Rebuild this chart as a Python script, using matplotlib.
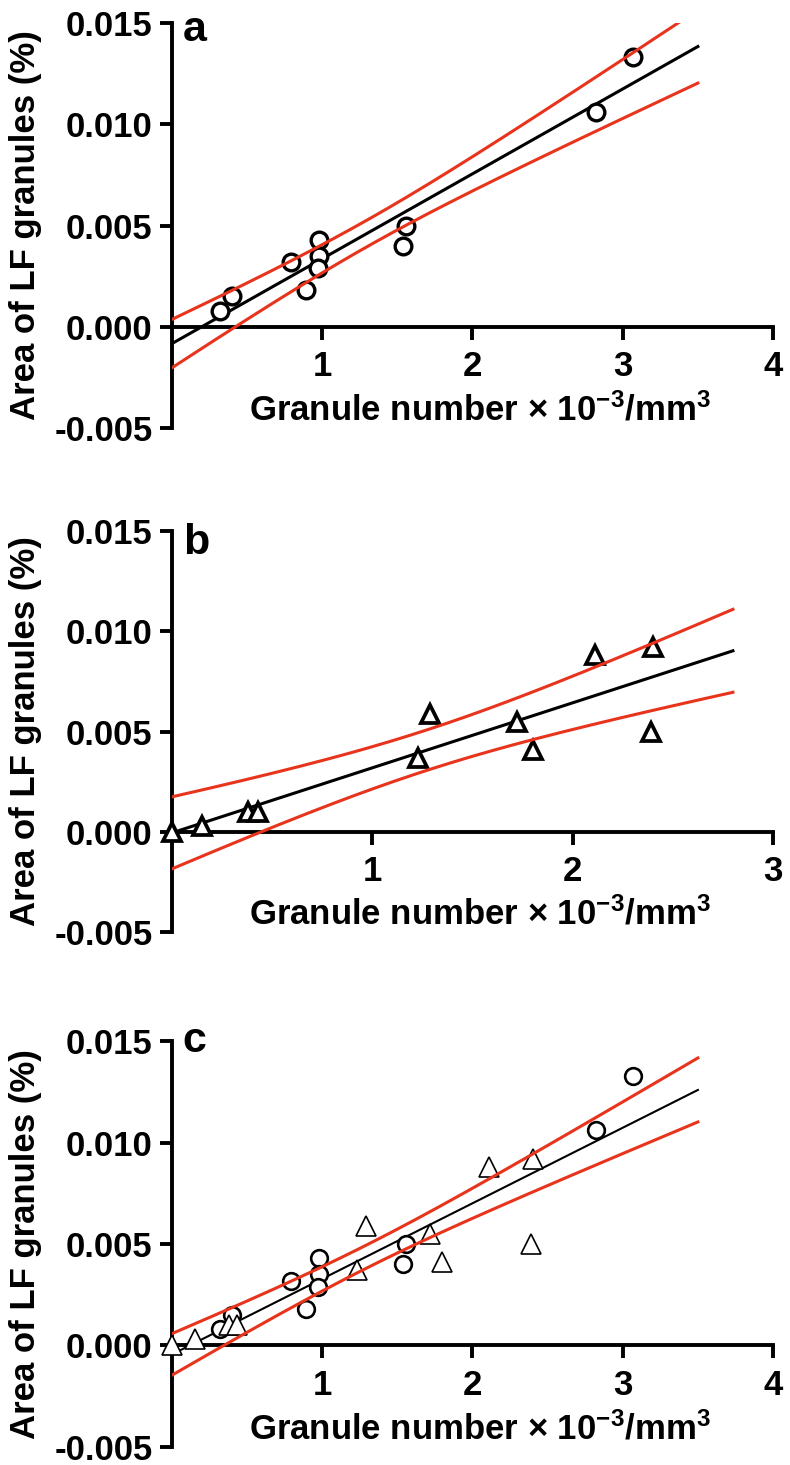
import numpy as np
import matplotlib.pyplot as plt
import matplotlib.transforms as mtransforms

plt.rcParams['font.family'] = ['Liberation Sans', 'DejaVu Sans']
plt.rcParams['font.weight'] = 'bold'
plt.rcParams['axes.unicode_minus'] = False
plt.rcParams['mathtext.fontset'] = 'custom'
plt.rcParams['mathtext.rm'] = 'Liberation Sans:bold'
plt.rcParams['mathtext.bf'] = 'Liberation Sans:bold'
plt.rcParams['mathtext.default'] = 'bf'

# circles (panel a) - granule number x 10^-3/mm3 vs area of LF granules (%)
circ_x = [0.32, 0.40, 0.79, 0.89, 0.98, 0.98, 0.97, 1.56, 1.54, 2.82, 3.07]
circ_y = [0.0008, 0.0015, 0.0032, 0.0018, 0.0043, 0.0035, 0.0029, 0.0050, 0.0040, 0.0106, 0.0133]
# triangles (panel b)
tri_x = [0.00, 0.15, 0.38, 0.43, 1.23, 1.29, 1.72, 1.80, 2.11, 2.40, 2.39]
tri_y = [0.0000, 0.0003, 0.0010, 0.0010, 0.0037, 0.0059, 0.0055, 0.0041, 0.0088, 0.0092, 0.0050]

panel_letters = ['a', 'b', 'c']
x_limits = [4, 3, 4]
fit_ends = [3.5, 2.8, 3.5]
t_crit = {9: 2.262, 20: 2.086}

y_ticks = [-0.005, 0.000, 0.005, 0.010, 0.015]
ylabel = 'Area of LF granules (%)'
xlabel = r'Granule number × 10$^{-3}$/mm$^{3}$'

RED = '#e8341c'


def fit_with_band(x, y, x_end):
    # linear regression with 95% confidence band of the mean
    x = np.asarray(x)
    y = np.asarray(y)
    n = len(x)
    slope, icpt = np.polyfit(x, y, 1)
    resid = y - (icpt + slope * x)
    s = np.sqrt(np.sum(resid ** 2) / (n - 2))
    xx = np.linspace(0, x_end, 200)
    yy = icpt + slope * xx
    se = s * np.sqrt(1.0 / n + (xx - x.mean()) ** 2 / np.sum((x - x.mean()) ** 2))
    t = t_crit[n - 2]
    return xx, yy, yy - t * se, yy + t * se


fig = plt.figure(figsize=(7.9, 14.65), dpi=100)
# axes boxes in figure fractions: left, bottom, width, height
boxes = [[0.2177, 0.7078, 0.7608, 0.2765],
         [0.2177, 0.3638, 0.7608, 0.2737],
         [0.2177, 0.0123, 0.7608, 0.2771]]
letter_y = [0.956, 0.943, 0.972]

for i, box in enumerate(boxes):
    ax = fig.add_axes(box)
    ax.set_xlim(0, x_limits[i])
    ax.set_ylim(-0.005, 0.015)

    if i == 0:
        xs, ys = circ_x, circ_y
    elif i == 1:
        xs, ys = tri_x, tri_y
    else:
        xs, ys = circ_x + tri_x, circ_y + tri_y

    xx, yy, lo, hi = fit_with_band(xs, ys, fit_ends[i])
    lw_black = 2.2 if i < 2 else 1.5
    ax.plot(xx, yy, color='black', lw=lw_black, zorder=2)

    if i == 0:
        ax.plot(circ_x, circ_y, 'o', ms=12, mfc='white', mec='black', mew=2.4, zorder=3, clip_on=False)
    elif i == 1:
        ax.plot(tri_x, tri_y, '^', ms=13, mfc='white', mec='black', mew=2.7, zorder=3, clip_on=False)
    else:
        ax.plot(circ_x, circ_y, 'o', ms=12, mfc='white', mec='black', mew=1.9, zorder=3, clip_on=False)
        ax.plot(tri_x, tri_y, '^', ms=14, mfc='white', mec='black', mew=1.2, zorder=3, clip_on=False)

    ax.plot(xx, lo, color=RED, lw=2.2, zorder=4)
    ax.plot(xx, hi, color=RED, lw=2.2, zorder=4)

    for side in ['top', 'right']:
        ax.spines[side].set_visible(False)
    ax.spines['bottom'].set_position(('data', 0))
    for side in ['left', 'bottom']:
        ax.spines[side].set_linewidth(2.8)
    ax.patch.set_alpha(0)

    ax.set_yticks(y_ticks)
    ax.set_yticklabels(['%.3f' % v for v in y_ticks])
    ax.set_xticks(range(1, x_limits[i] + 1))
    ax.set_xticklabels([str(v) for v in range(1, x_limits[i] + 1)])
    ax.tick_params(axis='both', direction='out', length=9, width=2.8, labelsize=25)
    ax.tick_params(axis='x', pad=8)
    ax.tick_params(axis='y', pad=5)

    ax.text(-0.243, 0.5, ylabel, transform=ax.transAxes, rotation=90,
            ha='center', va='center', fontsize=25, fontweight='bold')
    trans = mtransforms.blended_transform_factory(ax.transAxes, ax.transData)
    ax.text(0.512, -0.0041, xlabel, transform=trans, ha='center', va='center',
            fontsize=25, fontweight='bold')
    ax.text(0.018, letter_y[i], panel_letters[i], transform=ax.transAxes,
            ha='left', va='baseline', fontsize=31, fontweight='bold')

fig.savefig('out.png', dpi=100)
